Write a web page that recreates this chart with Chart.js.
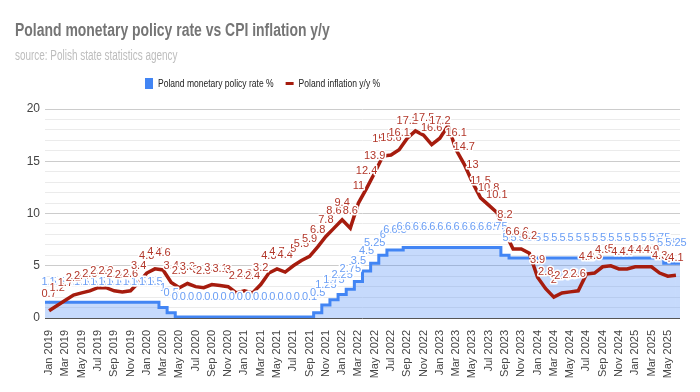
<!DOCTYPE html>
<html><head><meta charset="utf-8">
<script src="https://cdn.jsdelivr.net/npm/chart.js@4"></script>
<style>html,body{margin:0;padding:0;background:#fff}#wrap{width:700px;height:392px;position:relative}canvas{display:block}</style>
</head><body><div id="wrap"><canvas id="c" width="700" height="392"></canvas></div>
<script>
const months = [
 'Jan 2019','Feb 2019','Mar 2019','Apr 2019','May 2019','Jun 2019','Jul 2019','Aug 2019','Sep 2019','Oct 2019','Nov 2019','Dec 2019',
 'Jan 2020','Feb 2020','Mar 2020','Apr 2020','May 2020','Jun 2020','Jul 2020','Aug 2020','Sep 2020','Oct 2020','Nov 2020','Dec 2020',
 'Jan 2021','Feb 2021','Mar 2021','Apr 2021','May 2021','Jun 2021','Jul 2021','Aug 2021','Sep 2021','Oct 2021','Nov 2021','Dec 2021',
 'Jan 2022','Feb 2022','Mar 2022','Apr 2022','May 2022','Jun 2022','Jul 2022','Aug 2022','Sep 2022','Oct 2022','Nov 2022','Dec 2022',
 'Jan 2023','Feb 2023','Mar 2023','Apr 2023','May 2023','Jun 2023','Jul 2023','Aug 2023','Sep 2023','Oct 2023','Nov 2023','Dec 2023',
 'Jan 2024','Feb 2024','Mar 2024','Apr 2024','May 2024','Jun 2024','Jul 2024','Aug 2024','Sep 2024','Oct 2024','Nov 2024','Dec 2024',
 'Jan 2025','Feb 2025','Mar 2025','Apr 2025','May 2025','Jun 2025'
];
const policyRate = [
 1.5,1.5,1.5,1.5,1.5,1.5,1.5,1.5,1.5,1.5,1.5,1.5,
 1.5,1.5,1,0.5,0.1,0.1,0.1,0.1,0.1,0.1,0.1,0.1,
 0.1,0.1,0.1,0.1,0.1,0.1,0.1,0.1,0.1,0.5,1.25,1.75,
 2.25,2.75,3.5,4.5,5.25,6,6.5,6.5,6.75,6.75,6.75,6.75,
 6.75,6.75,6.75,6.75,6.75,6.75,6.75,6.75,6,5.75,5.75,5.75,
 5.75,5.75,5.75,5.75,5.75,5.75,5.75,5.75,5.75,5.75,5.75,5.75,
 5.75,5.75,5.75,5.75,5.25,5.25
];
const inflation = [
 0.7,1.2,1.7,2.2,2.4,2.6,2.9,2.9,2.6,2.5,2.6,3.4,
 4.3,4.7,4.6,3.4,2.9,3.3,3.0,2.9,3.2,3.1,3.0,2.4,
 2.6,2.4,3.2,4.3,4.7,4.4,5.0,5.5,5.9,6.8,7.8,8.6,
 9.4,8.6,11.0,12.4,13.9,15.5,15.6,16.1,17.2,17.9,17.5,16.6,
 17.2,18.4,16.1,14.7,13.0,11.5,10.8,10.1,8.2,6.6,6.6,6.2,
 3.9,2.8,2.0,2.4,2.5,2.6,4.2,4.3,4.9,5.0,4.7,4.7,
 4.9,4.9,4.9,4.3,4.0,4.1
];
const seriesNames = ['Poland monetary policy rate %', 'Poland inflation y/y %'];
const chartTitle = 'Poland monetary policy rate vs CPI inflation y/y';
const chartSubtitle = 'source: Polish state statistics agency';
const yMajorTicks = [0, 5, 10, 15, 20];

const SANS = "'Liberation Sans',Arial,sans-serif";
const BLUE = '#4285f4', RED = '#a61c0e', AREA = 'rgba(66,133,244,0.3)';
const labelStyle = [{color:'#6a9ef5', off:20}, {color:'#b2372a', off:17}];

// stepped area: each value covers its whole month band, so extend the first and
// last half-bands out to the plot edges (values read through the y scale)
const edgeBands = {
  id: 'edgeBands',
  beforeDatasetsDraw(chart) {
    const pts = chart.getDatasetMeta(0).data;
    if (!pts.length) return;
    const area = chart.chartArea, ctx = chart.ctx;
    const y0 = chart.scales.y.getPixelForValue(0);
    const first = pts[0], last = pts[pts.length - 1];
    ctx.save();
    ctx.fillStyle = AREA;
    ctx.fillRect(area.left, first.y, first.x - area.left, y0 - first.y);
    ctx.fillRect(last.x, last.y, area.right - last.x, y0 - last.y);
    ctx.strokeStyle = BLUE; ctx.lineWidth = 3; ctx.lineCap = 'butt';
    ctx.beginPath();
    ctx.moveTo(area.left, first.y); ctx.lineTo(first.x + 0.5, first.y);
    ctx.moveTo(last.x - 0.5, last.y); ctx.lineTo(area.right, last.y);
    ctx.stroke();
    ctx.restore();
  }
};

// narrow (horizontally condensed) header text: title, subtitle, legend
const header = {
  id: 'header',
  afterDraw(chart) {
    const ctx = chart.ctx;
    const txt = (s, x, y, font, color, sx) => {
      ctx.save();
      ctx.translate(x, y); ctx.scale(sx, 1);
      ctx.font = font; ctx.fillStyle = color;
      ctx.textAlign = 'left'; ctx.textBaseline = 'alphabetic';
      ctx.fillText(s, 0, 0);
      const w = ctx.measureText(s).width * sx;
      ctx.restore();
      return w;
    };
    txt(chartTitle, 15, 36, 'bold 18px ' + SANS, '#757575', 0.775);
    txt(chartSubtitle, 15, 59.5, '14px ' + SANS, '#bdbdbd', 0.71);
    const ly = 87;
    ctx.save();
    ctx.fillStyle = BLUE;
    ctx.fillRect(145, 78, 8, 11);
    ctx.restore();
    const w1 = txt(seriesNames[0], 158, ly, '11px ' + SANS, '#222222', 0.775);
    const mx = 158 + w1 + 12;
    ctx.save();
    ctx.strokeStyle = RED; ctx.lineWidth = 3;
    ctx.beginPath(); ctx.moveTo(mx, 83.5); ctx.lineTo(mx + 8, 83.5); ctx.stroke();
    ctx.restore();
    txt(seriesNames[1], mx + 13, ly, '11px ' + SANS, '#222222', 0.775);
  }
};

const pointLabels = {
  id: 'pointLabels',
  afterDatasetsDraw(chart) {
    const ctx = chart.ctx;
    const top = chart.chartArea.top;
    ctx.save();
    ctx.font = '11px ' + SANS;
    ctx.textAlign = 'center';
    ctx.textBaseline = 'middle';
    ctx.lineJoin = 'round';
    chart.data.datasets.forEach((ds, di) => {
      const st = labelStyle[di];
      const meta = chart.getDatasetMeta(di);
      meta.data.forEach((pt, i) => {
        const t = String(ds.data[i]);
        const y = pt.y - st.off;
        if (y - 8 < top) return; // annotation would leave the plot area
        ctx.lineWidth = 3;
        ctx.strokeStyle = '#ffffff';
        ctx.strokeText(t, pt.x, y);
        ctx.fillStyle = st.color;
        ctx.fillText(t, pt.x, y);
      });
    });
    ctx.restore();
  }
};

new Chart(document.getElementById('c'), {
  type: 'line',
  data: {
    labels: months,
    datasets: [
      { label: seriesNames[0], data: policyRate, stepped: 'middle', borderColor: BLUE, borderWidth: 3,
        backgroundColor: AREA, fill: 'origin', pointRadius: 0, order: 2 },
      { label: seriesNames[1], data: inflation, borderColor: RED, borderWidth: 3.5,
        backgroundColor: RED, fill: false, pointRadius: 0, tension: 0, order: 1 }
    ]
  },
  options: {
    responsive: false,
    animation: false,
    devicePixelRatio: 1,
    layout: { padding: { left: 15, right: 20, top: 109, bottom: 0 } },
    plugins: {
      tooltip: { enabled: false },
      title: { display: false },
      subtitle: { display: false },
      legend: { display: false }
    },
    scales: {
      x: {
        offset: true,
        grid: { display: false },
        border: { display: false },
        ticks: { autoSkip: false, maxRotation: 90, minRotation: 90, color: '#444', padding: 4,
          font: { family: SANS, size: 11 },
          callback(v, i) { return i % 2 === 0 ? months[i] : ''; } },
        afterFit(s) { s.height = 74; }
      },
      y: {
        min: 0, max: 20,
        border: { display: false },
        grid: { drawTicks: false, lineWidth: 1,
          color(c) { const v = c.tick.value; return v === 0 ? '#555555' : (yMajorTicks.includes(v) ? '#cccccc' : '#ebebeb'); } },
        ticks: { stepSize: 1, autoSkip: false, maxTicksLimit: 30, color: '#444', padding: 5,
          font: { family: SANS, size: 12 },
          callback(v) { return yMajorTicks.includes(v) ? v : ''; } },
        afterFit(s) { s.width = 30; }
      }
    }
  },
  plugins: [edgeBands, pointLabels, header]
});
</script>
</body></html>
